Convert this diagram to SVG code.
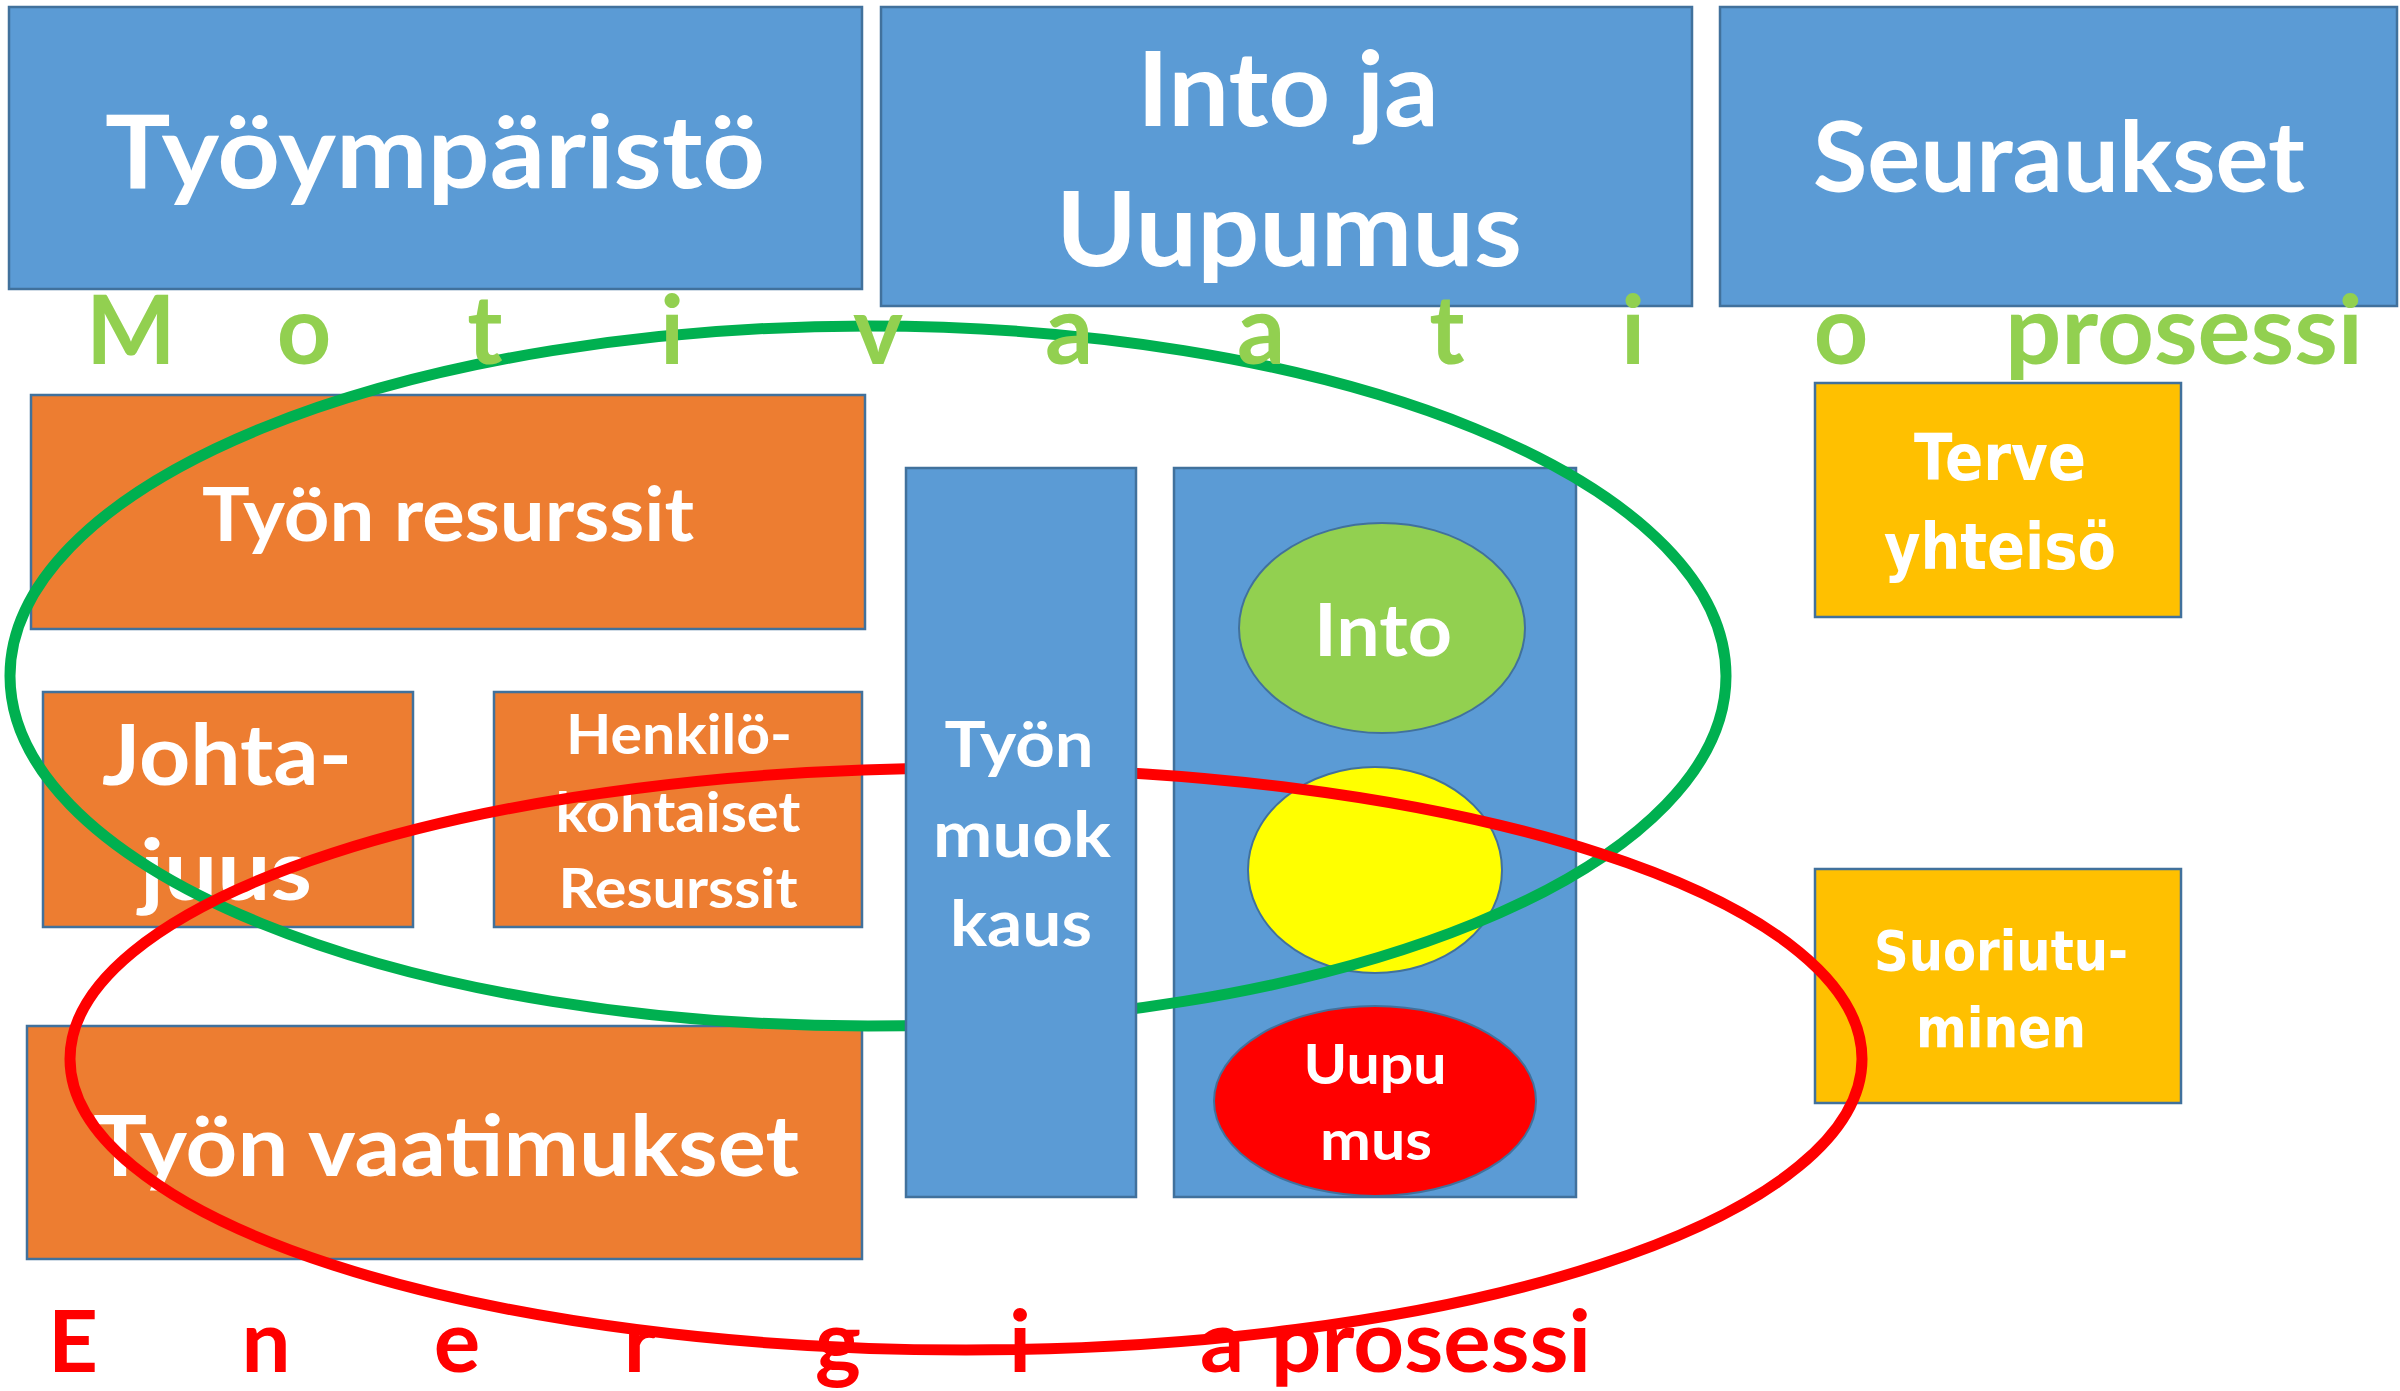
<svg xmlns="http://www.w3.org/2000/svg" width="2400" height="1391" viewBox="0 0 2400 1391">
<style>
.blue{fill:#5B9BD5;stroke:#41719C;stroke-width:2.5}
.orange{fill:#ED7D31;stroke:#41719C;stroke-width:2.5}
.gold{fill:#FFC000;stroke:#41719C;stroke-width:2.5}
.t{font-family:Lato,"Open Sans","Liberation Sans",sans-serif;font-weight:bold;fill:#FFFFFF;text-anchor:middle}
.tv{font-family:"DejaVu Sans","Liberation Sans",sans-serif;font-weight:bold;fill:#FFFFFF;text-anchor:middle}
.mot{font-family:Lato,"Open Sans","Liberation Sans",sans-serif;font-weight:bold;fill:#92D050;font-size:95px;text-anchor:middle}
.ene{font-family:Lato,"Open Sans","Liberation Sans",sans-serif;font-weight:bold;fill:#FF0000;font-size:87px;text-anchor:middle}
.loop{fill:none}
</style>
<rect width="2400" height="1391" fill="#FFFFFF"/>

<g id="tyoymparisto">
<rect class="blue" x="9" y="7" width="853" height="282"/>
<text class="t" x="435" y="188" font-size="102" textLength="660" lengthAdjust="spacingAndGlyphs">Työympäristö</text>
</g>
<g id="into-ja-uupumus">
<rect class="blue" x="881" y="7" width="811" height="299"/>
<text class="t" x="1288" y="126" font-size="103" textLength="302" lengthAdjust="spacingAndGlyphs">Into ja</text>
<text class="t" x="1289" y="266" font-size="103" textLength="466" lengthAdjust="spacingAndGlyphs">Uupumus</text>
</g>
<g id="seuraukset">
<rect class="blue" x="1720" y="7" width="677" height="299"/>
<text class="t" x="2059" y="192" font-size="98" textLength="492" lengthAdjust="spacingAndGlyphs">Seuraukset</text>
</g>

<g id="tyon-resurssit">
<rect class="orange" x="31" y="395" width="834" height="234"/>
<text class="t" x="448" y="541" font-size="75" textLength="492" lengthAdjust="spacingAndGlyphs">Työn resurssit</text>
</g>
<g id="johtajuus">
<rect class="orange" x="43" y="692" width="370" height="235"/>
<text class="t" x="227" y="785" font-size="84" textLength="250" lengthAdjust="spacingAndGlyphs">Johta-</text>
<text class="t" x="226" y="900" font-size="84" textLength="172" lengthAdjust="spacingAndGlyphs">juus</text>
</g>
<g id="henkilokohtaiset-resurssit">
<rect class="orange" x="494" y="692" width="368" height="235"/>
<text class="t" x="679" y="754" font-size="56" textLength="226" lengthAdjust="spacingAndGlyphs">Henkilö-</text>
<text class="t" x="678" y="832" font-size="56" textLength="245" lengthAdjust="spacingAndGlyphs">kohtaiset</text>
<text class="t" x="678" y="908" font-size="56" textLength="239" lengthAdjust="spacingAndGlyphs">Resurssit</text>
</g>
<g id="tyon-vaatimukset">
<rect class="orange" x="27" y="1026" width="835" height="233"/>
<text class="t" x="446" y="1176" font-size="85" textLength="706" lengthAdjust="spacingAndGlyphs">Työn vaatimukset</text>
</g>

<g id="into-uupumus-panel">
<rect class="blue" x="1174" y="468" width="402" height="729"/>
</g>
<g id="into">
<ellipse cx="1382" cy="628" rx="143" ry="105" fill="#92D050" stroke="#41719C" stroke-width="2"/>
<text class="t" x="1383" y="656" font-size="72" textLength="138" lengthAdjust="spacingAndGlyphs">Into</text>
</g>
<g id="valitila">
<ellipse cx="1375" cy="870" rx="127" ry="103" fill="#FFFF00" stroke="#41719C" stroke-width="2"/>
</g>
<g id="uupumus">
<ellipse cx="1375" cy="1101" rx="161" ry="95" fill="#FF0000" stroke="#41719C" stroke-width="2"/>
<text class="t" x="1375" y="1084" font-size="56" textLength="143" lengthAdjust="spacingAndGlyphs">Uupu</text>
<text class="t" x="1376" y="1160" font-size="56" textLength="112" lengthAdjust="spacingAndGlyphs">mus</text>
</g>

<g id="terve-yhteiso">
<rect class="gold" x="1815" y="383" width="366" height="234"/>
<text class="tv" x="2000" y="480" font-size="64" textLength="172" lengthAdjust="spacingAndGlyphs">Terve</text>
<text class="tv" x="2000" y="569" font-size="64" textLength="232" lengthAdjust="spacingAndGlyphs">yhteisö</text>
</g>
<g id="suoriutuminen">
<rect class="gold" x="1815" y="869" width="366" height="234"/>
<text class="tv" x="2001" y="970" font-size="55" textLength="254" lengthAdjust="spacingAndGlyphs">Suoriutu-</text>
<text class="tv" x="2001" y="1047" font-size="55" textLength="170" lengthAdjust="spacingAndGlyphs">minen</text>
</g>

<g id="connectors">
<ellipse class="loop" cx="868" cy="676" rx="858" ry="350" stroke="#00B050" stroke-width="11"/>
<ellipse class="loop" cx="966" cy="1059" rx="896" ry="291" stroke="#FF0000" stroke-width="11"/>
</g>

<g id="tyon-muokkaus">
<rect class="blue" x="906" y="468" width="230" height="729"/>
<text class="t" x="1019" y="767" font-size="64" textLength="149" lengthAdjust="spacingAndGlyphs">Työn</text>
<text class="t" x="1022" y="857" font-size="64" textLength="178" lengthAdjust="spacingAndGlyphs">muok</text>
<text class="t" x="1021" y="946" font-size="64" textLength="142" lengthAdjust="spacingAndGlyphs">kaus</text>
</g>

<g id="motivaatioprosessi">
<text class="mot" x="131" y="364">M</text>
<text class="mot" x="304" y="364">o</text>
<text class="mot" x="485" y="364">t</text>
<text class="mot" x="672" y="364">i</text>
<text class="mot" x="878" y="364">v</text>
<text class="mot" x="1069" y="364">a</text>
<text class="mot" x="1261" y="364">a</text>
<text class="mot" x="1447" y="364">t</text>
<text class="mot" x="1633" y="364">i</text>
<text class="mot" x="1841" y="364">o</text>
<text class="mot" x="2184" y="364" textLength="358" lengthAdjust="spacingAndGlyphs">prosessi</text>
</g>
<g id="energiaprosessi">
<text class="ene" x="73" y="1372">E</text>
<text class="ene" x="266" y="1372">n</text>
<text class="ene" x="457" y="1372">e</text>
<text class="ene" x="640" y="1372">r</text>
<text class="ene" x="838" y="1372">g</text>
<text class="ene" x="1020" y="1372">i</text>
<text class="ene" x="1222" y="1372">a</text>
<text class="ene" x="1431" y="1372" textLength="320" lengthAdjust="spacingAndGlyphs">prosessi</text>
</g>
</svg>
